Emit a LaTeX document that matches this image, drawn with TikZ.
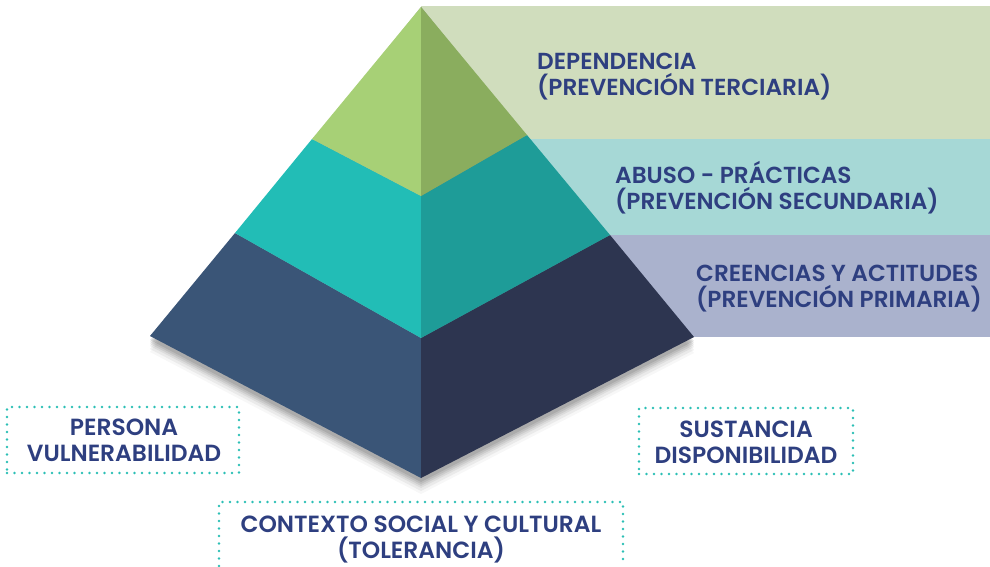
\documentclass[tikz,border=0pt]{standalone}
\usepackage{fontspec}
\setmainfont{Poppins}[UprightFont={* SemiBold}]
\definecolor{txtblue}{HTML}{2E3F80}
\definecolor{dotteal}{HTML}{2BBFB5}
\definecolor{greenL}{HTML}{A7D076}
\definecolor{greenR}{HTML}{8AAD5E}
\definecolor{tealL}{HTML}{22BDB6}
\definecolor{tealR}{HTML}{1E9C98}
\definecolor{navyL}{HTML}{3A5577}
\definecolor{navyR}{HTML}{2D3550}
\definecolor{bandG}{HTML}{D0DDBD}
\definecolor{bandT}{HTML}{A6D8D6}
\definecolor{bandP}{HTML}{AAB2CD}
% two stacked lines, baseline on the first one
\newcommand{\lblL}[2]{\vtop{\baselineskip=26pt\hbox{#1}\hbox{#2}}}
\newcommand{\lblC}[2]{\vtop{\baselineskip=26pt\halign{\hfil##\hfil\cr #1\cr #2\cr}}}
\tikzset{
  lbl/.style={inner sep=0pt, text=txtblue, font=\fontsize{23.2}{26}\selectfont},
  lblsm/.style={lbl, font=\fontsize{23.4}{26}\selectfont},
  dotbox/.style={draw=dotteal, line width=2.6pt, line cap=round,
    dash pattern=on 0pt off 7.5pt},
}
\begin{document}
\begin{tikzpicture}[x=1pt,y=-1pt]
\useasboundingbox (0,0) rectangle (990,566);

% pyramid corners
\coordinate (A) at (421,7);
\coordinate (L) at (150,336);
\coordinate (B) at (421,478);
\coordinate (R) at (694,337);
\coordinate (GL) at (312,139);
\coordinate (GC) at (421,196);
\coordinate (GR) at (527,135);
\coordinate (TL) at (235,233);
\coordinate (TC) at (421,338);
\coordinate (TR) at (610,235);

% level bands behind the pyramid
\fill[bandG] (421,6) rectangle (990,139);
\fill[bandT] (421,139) rectangle (990,235);
\fill[bandP] (421,235) rectangle (990,337);

% soft shadow under the base
\foreach \d/\op in {16/0.03,13/0.05,10/0.06,8/0.07,6/0.08,4/0.09}{
  \fill[black,opacity=\op] ([yshift=-\d pt]L) -- ([yshift=-\d pt]B) -- ([yshift=-\d pt]R) -- (A) -- cycle;
}

% faces
\fill[navyL] (TL) -- (TC) -- (B) -- (L) -- cycle;
\fill[navyR] (TC) -- (TR) -- (R) -- (B) -- cycle;
\fill[tealL] (GL) -- (GC) -- (TC) -- (TL) -- cycle;
\fill[tealR] (GC) -- (GR) -- (TR) -- (TC) -- cycle;
\fill[greenL] (A) -- (GC) -- (GL) -- cycle;
\fill[greenR] (A) -- (GR) -- (GC) -- cycle;

% level labels
\node[lbl, anchor=base west] (terc) at (537,69) {\lblL{DEPENDENCIA}{(PREVENCIÓN TERCIARIA)}};
\node[lbl, anchor=base west] (secu) at (615,183) {\lblL{ABUSO - PRÁCTICAS}{(PREVENCIÓN SECUNDARIA)}};
\node[lbl, anchor=base west] (prim) at (696,281) {\lblL{CREENCIAS Y ACTITUDES}{(PREVENCIÓN PRIMARIA)}};

% factor boxes
\node[dotbox, minimum width=232pt, minimum height=66pt] (persbox) at (123,440) {};
\node[lblsm, anchor=base] (pers) at (124,435) {\lblC{PERSONA}{VULNERABILIDAD}};
\node[dotbox, minimum width=214pt, minimum height=66pt] (sustbox) at (746,441) {};
\node[lblsm, anchor=base] (sust) at (746,437) {\lblC{SUSTANCIA}{DISPONIBILIDAD}};
\coordinate (ctxA) at (219,566);
\coordinate (ctxB) at (623,566);
\draw[dotbox] (ctxA) -- (219,502) -- (623,502) -- (ctxB);
\node[lblsm, anchor=base] (ctx) at (421,532) {\lblC{CONTEXTO SOCIAL Y CULTURAL}{(TOLERANCIA)}};
\end{tikzpicture}
\end{document}
